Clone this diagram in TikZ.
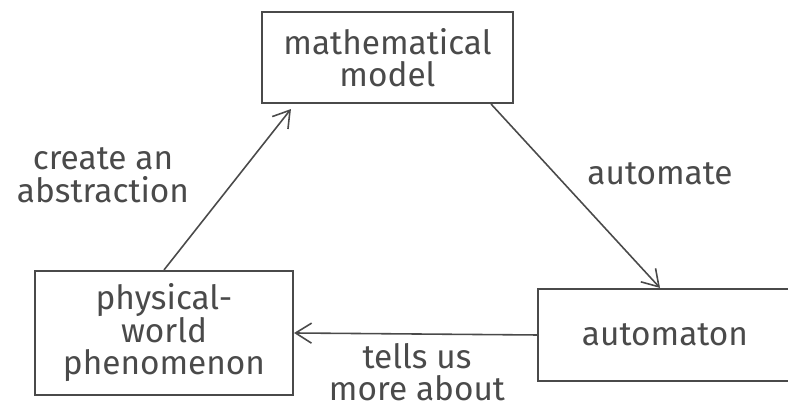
\documentclass[tikz,border=0pt]{standalone}
\usepackage{fontspec}
\setmainfont{Fira Sans}
\usepackage{tikz}
\usetikzlibrary{arrows.meta, positioning}
\definecolor{pencil}{HTML}{4A4A4A}

\begin{document}
\begin{tikzpicture}[font=\fontsize{19}{18.5}\selectfont\color{pencil},
    blk/.style={draw=pencil, line width=1.2pt, align=center, inner sep=0pt},
    arr/.style={draw=pencil, line width=0.9pt, -{Straight Barb[length=3.2mm, width=4mm]}},
    lbl/.style={align=center}]
    \useasboundingbox (0,0) rectangle (15.76,8.24);
    \clip (0,0) rectangle (15.76,8.24);
    \node[blk, minimum width=5.02cm, minimum height=1.82cm] (model) at (7.75,7.09) {mathematical\\model};
    \node[blk, minimum width=5.16cm, minimum height=2.48cm] (phys) at (3.28,1.58) {physical-\\world\\phenomenon};
    \node[blk, minimum width=5.08cm, minimum height=1.84cm] (auto) at (13.3,1.54) {automaton};
    \node[lbl] (abstr) at (2.06,4.74) {create an\\abstraction};
    \node[lbl] (autom) at (13.2,4.76) {automate};
    \node[lbl] (tells) at (8.34,0.8) {tells us\\more about};
    \draw[arr] (phys.north) -- ([xshift=0.6cm, yshift=-0.1cm]model.south west);
    \draw[arr] ([xshift=-0.46cm]model.south east) -- ([xshift=-0.1cm]auto.north);
    \draw[arr] (auto.west) -- (phys.east);
  \end{tikzpicture}
\end{document}
